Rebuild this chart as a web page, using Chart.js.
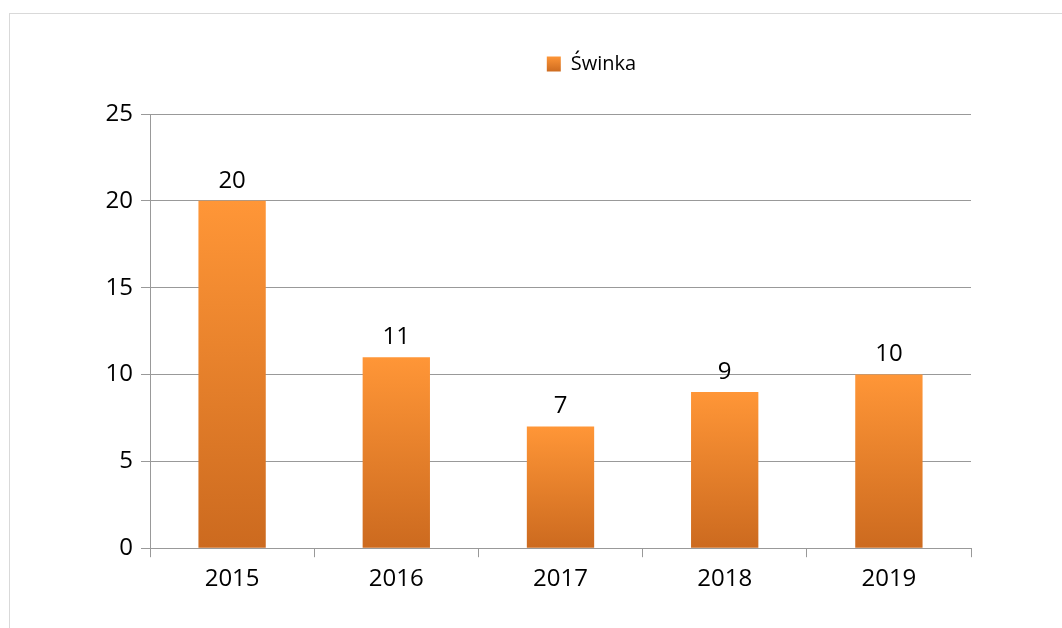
<!DOCTYPE html>
<html>
<head>
<meta charset="utf-8">
<script src="https://cdn.jsdelivr.net/npm/chart.js@4.4.0/dist/chart.umd.min.js"></script>
<style>
  html, body { margin: 0; padding: 0; background: #fff; overflow: hidden; width: 1062px; height: 628px; }
  #frame { position: absolute; left: 9px; top: 13px; width: 1200px; height: 700px; border: 1px solid #d9d9d9; box-sizing: border-box; }
  #wrap { position: absolute; left: 10px; top: 14px; width: 1170px; height: 600px; }
</style>
</head>
<body>
<div id="frame"></div>
<div id="wrap"><canvas id="c"></canvas></div>
<script>
const categories = ['2015', '2016', '2017', '2018', '2019'];
const seriesName = 'Świnka';
const seriesValues = [20, 11, 7, 9, 10];
const yTicks = [0, 5, 10, 15, 20, 25];

const TOP_COLOR = '#FF9637';
const BOTTOM_COLOR = '#CC6A1F';
const FONT = "'Open Sans', 'DejaVu Sans', sans-serif";

function barGradient(ctx) {
  const chart = ctx.chart;
  if (!chart.chartArea || ctx.type !== 'data') return '#EE8630';
  const y = chart.scales.y;
  const top = y.getPixelForValue(ctx.raw);
  const bottom = y.getPixelForValue(0);
  if (!isFinite(top) || !isFinite(bottom) || top === bottom) return '#EE8630';
  const g = chart.ctx.createLinearGradient(0, top, 0, bottom);
  g.addColorStop(0, TOP_COLOR);
  g.addColorStop(1, BOTTOM_COLOR);
  return g;
}

const legendSpacer = {
  id: 'legendSpacer',
  beforeInit(chart) {
    const lg = chart.legend;
    if (!lg) return;
    const f = lg.fit;
    lg.fit = function () { f.call(this); this.height += 30; };
  },
  afterLayout(chart) {
    const lg = chart.legend;
    if (!lg) return;
    lg.left += 101;
    lg.right += 101;
  }
};

const valueLabels = {
  id: 'valueLabels',
  afterDatasetsDraw(chart) {
    const ctx = chart.ctx;
    const meta = chart.getDatasetMeta(0);
    ctx.save();
    ctx.font = '24px ' + FONT;
    ctx.fillStyle = '#000';
    ctx.textAlign = 'center';
    ctx.textBaseline = 'middle';
    meta.data.forEach((el, i) => {
      ctx.fillText(String(seriesValues[i]), el.x, el.y - 20);
    });
    ctx.restore();
  }
};

new Chart(document.getElementById('c'), {
  type: 'bar',
  data: {
    labels: categories,
    datasets: [{
      label: seriesName,
      data: seriesValues,
      backgroundColor: barGradient,
      borderWidth: 0,
      categoryPercentage: 1,
      barPercentage: 0.41
    }]
  },
  options: {
    responsive: true,
    maintainAspectRatio: false,
    animation: false,
    layout: { padding: { top: 30, right: 209, bottom: 12, left: 0 } },
    plugins: {
      tooltip: { enabled: false },
      legend: {
        position: 'top',
        align: 'center',
        labels: {
          font: { family: FONT, size: 20 },
          color: '#000',
          boxWidth: 14,
          boxHeight: 15,
          padding: 10,
          generateLabels(chart) {
            const g = chart.ctx.createLinearGradient(0, 42, 0, 58);
            g.addColorStop(0, TOP_COLOR);
            g.addColorStop(1, BOTTOM_COLOR);
            return [{ text: seriesName, fillStyle: g, strokeStyle: g, lineWidth: 0, datasetIndex: 0, hidden: false }];
          }
        }
      }
    },
    scales: {
      x: {
        offset: true,
        grid: { offset: true, drawOnChartArea: false, drawTicks: true, tickLength: 9, color: '#999', lineWidth: 1 },
        border: { color: '#999', width: 1 },
        ticks: { font: { family: FONT, size: 24 }, color: '#000', padding: 8 }
      },
      y: {
        min: 0,
        max: 25,
        afterBuildTicks(scale) { scale.ticks = yTicks.map(v => ({ value: v })); },
        afterFit(scale) { scale.width = 140; },
        grid: { color: '#999', lineWidth: 1, tickLength: 9, drawTicks: true },
        border: { color: '#999', width: 1 },
        ticks: { font: { family: FONT, size: 24 }, color: '#000', padding: 8 }
      }
    }
  },
  plugins: [legendSpacer, valueLabels]
});
</script>
</body>
</html>
